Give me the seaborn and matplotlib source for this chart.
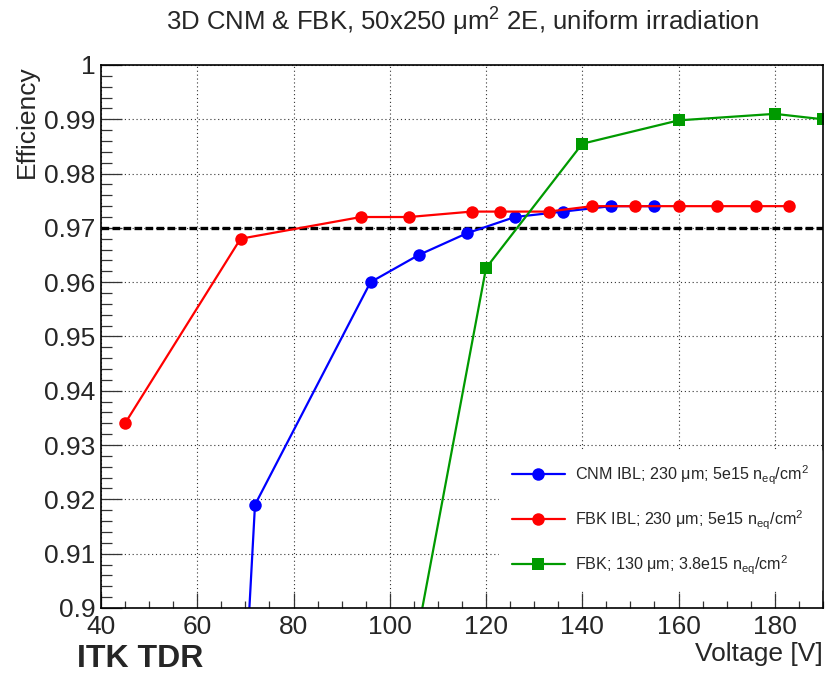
import numpy as np
import pandas as pd
import matplotlib
matplotlib.use("Agg")
import matplotlib.pyplot as plt
from matplotlib.ticker import MultipleLocator, FuncFormatter
import seaborn as sns

# efficiency vs bias voltage
cnm_v = [69, 72, 96, 106, 116, 126, 136, 146, 155]
cnm_eff = [0.870, 0.919, 0.960, 0.965, 0.969, 0.972, 0.973, 0.974, 0.974]

fbk_v = [45, 69, 94, 104, 117, 123, 133, 142, 151, 160, 168, 176, 183]
fbk_eff = [0.934, 0.968, 0.972, 0.972, 0.973, 0.973, 0.973, 0.974, 0.974, 0.974, 0.974, 0.974, 0.974]

fbk130_v = [100, 120, 140, 160, 180, 190]
fbk130_eff = [0.868, 0.9626, 0.9855, 0.9898, 0.991, 0.990]

labels = [r"CNM IBL; 230 μm; 5e15 n$_{\mathrm{eq}}$/cm$^{2}$",
          r"FBK IBL; 230 μm; 5e15 n$_{\mathrm{eq}}$/cm$^{2}$",
          r"FBK; 130 μm; 3.8e15 n$_{\mathrm{eq}}$/cm$^{2}$"]
colors = ["#0000ff", "#ff0000", "#009a00"]
markers = ["o", "o", "s"]
threshold = 0.97

sns.set_style("ticks")
plt.rcParams["font.family"] = ["Liberation Sans", "DejaVu Sans"]
plt.rcParams["mathtext.fontset"] = "custom"
plt.rcParams["mathtext.rm"] = "Liberation Sans"
plt.rcParams["mathtext.it"] = "Liberation Sans:italic"

fig = plt.figure(figsize=(8.27, 6.77), dpi=100)
ax = fig.add_axes([0.1221, 0.102, 0.873, 0.802])

series = [(cnm_v, cnm_eff), (fbk_v, fbk_eff), (fbk130_v, fbk130_eff)]
for (v, e), lab, c, m in zip(series, labels, colors, markers):
    df = pd.DataFrame({"Voltage": v, "Efficiency": e})
    sns.lineplot(data=df, x="Voltage", y="Efficiency", ax=ax, color=c, marker=m,
                 markersize=9 if m == "o" else 8.5, markeredgewidth=0,
                 linewidth=1.6, label=lab, estimator=None, sort=False)

ax.axhline(threshold, color="black", linewidth=2.4, linestyle=(0, (2.3, 1.0)), zorder=1)

ax.set_xlim(40, 190)
ax.set_ylim(0.9, 1.0)
ax.xaxis.set_major_locator(MultipleLocator(20))
ax.xaxis.set_minor_locator(MultipleLocator(5))
ax.yaxis.set_major_locator(MultipleLocator(0.01))
ax.yaxis.set_minor_locator(MultipleLocator(0.002))
ax.yaxis.set_major_formatter(FuncFormatter(lambda y, p: "%g" % round(y, 3)))
ax.xaxis.set_major_formatter(FuncFormatter(lambda x, p: "%g" % x))

ax.grid(True, which="major", color="#333333", linestyle=(0, (1, 2.5)), linewidth=0.8)
ax.tick_params(axis="both", which="both", direction="in", top=False, right=False,
               labelsize=19, width=0.9, color="#333333")
ax.tick_params(axis="y", which="major", length=15, pad=4)
ax.tick_params(axis="y", which="minor", length=8)
ax.tick_params(axis="x", which="major", length=11, pad=5)
ax.tick_params(axis="x", which="minor", length=5)
for s in ax.spines.values():
    s.set_linewidth(1.2)
    s.set_color("black")

ax.set_xlabel("Voltage [V]", fontsize=19, loc="right", labelpad=2)
ax.set_ylabel("Efficiency", fontsize=19, loc="top", labelpad=4)
ax.set_title("3D CNM & FBK, 50x250 μm$^{2}$ 2E, uniform irradiation", fontsize=18.5, pad=25)

leg = ax.legend(loc="upper left", bbox_to_anchor=(0.54, 0.305), fontsize=11.6,
                frameon=True, fancybox=False, edgecolor="white", facecolor="white",
                framealpha=1, handlelength=3.3, handletextpad=0.6,
                labelspacing=1.35, borderpad=0.8)

fig.text(0.093, 0.004, "ITK TDR", fontsize=23, fontweight="bold",
         family=["Liberation Sans", "DejaVu Sans"], ha="left", va="bottom")

fig.savefig("out.png", dpi=100)
